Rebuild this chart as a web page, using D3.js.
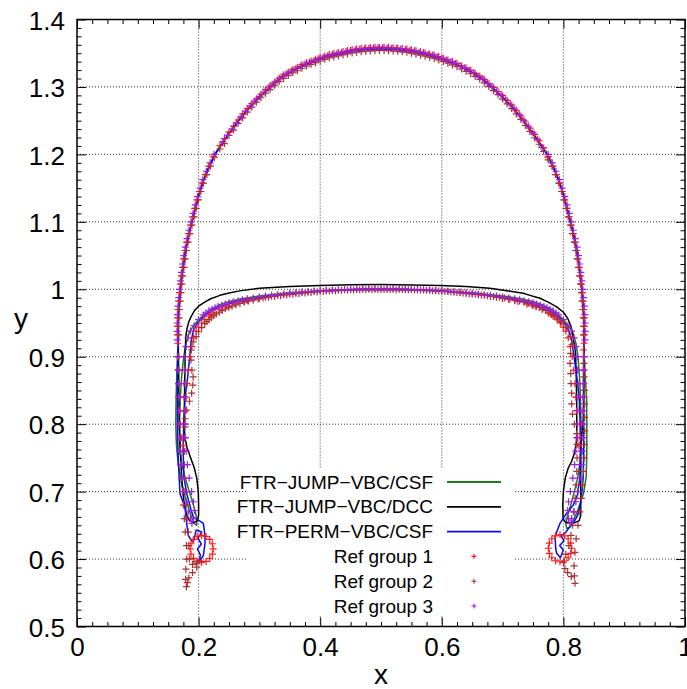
<!DOCTYPE html>
<html>
<head>
<meta charset="utf-8">
<script src="https://cdn.jsdelivr.net/npm/d3@7"></script>
<style>
  html, body { margin: 0; padding: 0; background: #fff; }
  svg { display: block; }
  text { font-family: "Liberation Sans", Arial, Helvetica, sans-serif; fill: #000; }
</style>
</head>
<body>
<svg id="chart" width="687" height="689"></svg>
<script>
// ---------------- data ----------------
const xTickValues = [0, 0.2, 0.4, 0.6, 0.8, 1];
const xTickLabels = ["0", "0.2", "0.4", "0.6", "0.8", "1"];
const yTickValues = [0.5, 0.6, 0.7, 0.8, 0.9, 1.0, 1.1, 1.2, 1.3, 1.4];
const yTickLabels = ["0.5", "0.6", "0.7", "0.8", "0.9", "1", "1.1", "1.2", "1.3", "1.4"];
const legendNames = ["FTR\u2212JUMP\u2212VBC/CSF", "FTR\u2212JUMP\u2212VBC/DCC", "FTR\u2212PERM\u2212VBC/CSF",
                     "Ref group 1", "Ref group 2", "Ref group 3"];

// FTR-JUMP-VBC/CSF (green line)
const jumpCsf = [
 [0.1665,0.92],[0.166,0.94],[0.1665,0.96],[0.168,0.98],[0.170,1.00],[0.1725,1.02],[0.1755,1.04],[0.179,1.06],[0.1835,1.08],[0.189,1.10],[0.1945,1.12],[0.2005,1.14],[0.2075,1.16],[0.2165,1.18],[0.227,1.20],[0.24,1.218],[0.255,1.237],[0.27,1.255],[0.285,1.271],[0.30,1.285],[0.318,1.30],[0.335,1.313],[0.355,1.324],[0.375,1.333],[0.395,1.340],[0.415,1.346],[0.435,1.350],[0.455,1.354],[0.475,1.356],[0.50,1.357],[0.525,1.356],[0.545,1.354],[0.565,1.350],[0.585,1.346],[0.605,1.340],[0.625,1.333],[0.645,1.324],[0.665,1.313],[0.682,1.30],[0.70,1.285],[0.715,1.271],[0.73,1.255],[0.745,1.237],[0.76,1.218],[0.7735,1.20],[0.784,1.18],[0.793,1.16],[0.80,1.14],[0.806,1.12],[0.8115,1.10],[0.817,1.08],[0.8215,1.06],[0.825,1.04],[0.828,1.02],[0.8305,1.00],[0.832,0.98],[0.8335,0.96],[0.834,0.94],[0.8335,0.92],
 [0.8345,0.90],[0.836,0.87],[0.8383,0.836],[0.8385,0.80],[0.8385,0.76],[0.8375,0.722],[0.833,0.697],[0.8218,0.668],[0.811,0.648],[0.806,0.645],
 [0.804,0.652],[0.807,0.665],[0.812,0.68],[0.818,0.70],[0.8235,0.72],[0.8275,0.745],[0.829,0.77],[0.829,0.80],[0.828,0.84],[0.8265,0.87],[0.824,0.90],[0.8205,0.92],
 [0.815,0.937],[0.807,0.947],[0.80,0.955],[0.79,0.963],[0.78,0.970],[0.765,0.977],[0.75,0.982],[0.73,0.986],[0.70,0.990],[0.65,0.995],[0.60,0.998],[0.55,0.9995],[0.50,1.000],[0.45,0.9995],[0.40,0.998],[0.35,0.995],[0.30,0.990],[0.27,0.986],[0.25,0.982],[0.235,0.977],[0.22,0.970],[0.21,0.963],[0.20,0.955],[0.193,0.947],[0.185,0.937],
 [0.1795,0.92],[0.1755,0.90],[0.172,0.87],[0.170,0.84],[0.1685,0.80],[0.169,0.77],[0.1715,0.745],[0.1765,0.725],[0.183,0.705],[0.189,0.688],[0.194,0.672],[0.197,0.66],[0.197,0.650],
 [0.1935,0.652],[0.1885,0.662],[0.183,0.677],[0.177,0.695],[0.1715,0.715],[0.1665,0.74],[0.1635,0.77],[0.1625,0.80],[0.163,0.84],[0.164,0.87],[0.165,0.90],[0.1665,0.92]
];

// FTR-JUMP-VBC/DCC (black line)
const jumpDcc = [
 [0.1665,0.92],[0.166,0.94],[0.1665,0.96],[0.168,0.98],[0.170,1.00],[0.1725,1.02],[0.1755,1.04],[0.179,1.06],[0.1835,1.08],[0.189,1.10],[0.1945,1.12],[0.2005,1.14],[0.2075,1.16],[0.2165,1.18],[0.227,1.20],[0.24,1.218],[0.255,1.237],[0.27,1.255],[0.285,1.271],[0.30,1.285],[0.318,1.30],[0.335,1.313],[0.355,1.324],[0.375,1.333],[0.395,1.340],[0.415,1.346],[0.435,1.350],[0.455,1.354],[0.475,1.356],[0.50,1.357],[0.525,1.356],[0.545,1.354],[0.565,1.350],[0.585,1.346],[0.605,1.340],[0.625,1.333],[0.645,1.324],[0.665,1.313],[0.682,1.30],[0.70,1.285],[0.715,1.271],[0.73,1.255],[0.745,1.237],[0.76,1.218],[0.7735,1.20],[0.784,1.18],[0.793,1.16],[0.80,1.14],[0.806,1.12],[0.8115,1.10],[0.817,1.08],[0.8215,1.06],[0.825,1.04],[0.828,1.02],[0.8305,1.00],[0.832,0.98],[0.8335,0.96],[0.834,0.94],[0.8335,0.92],
 [0.834,0.90],[0.834,0.87],[0.8338,0.84],[0.833,0.81],[0.831,0.79],[0.829,0.775],[0.8285,0.75],[0.8285,0.72],[0.8285,0.69],[0.8285,0.665],[0.826,0.657],[0.819,0.654],[0.81,0.653],[0.803,0.655],[0.7995,0.66],[0.799,0.68],[0.80,0.70],[0.803,0.72],[0.808,0.735],[0.8136,0.745],[0.818,0.757],[0.821,0.77],[0.822,0.79],[0.822,0.82],[0.8215,0.85],[0.821,0.88],[0.8195,0.91],[0.8174,0.92],[0.8155,0.932],[0.8125,0.945],[0.8075,0.956],[0.80,0.966],[0.789,0.974],[0.775,0.981],[0.7615,0.9867],[0.745,0.991],[0.734,0.994],[0.71,0.9975],[0.679,1.0015],[0.64,1.004],[0.597,1.0055],[0.55,1.0065],[0.50,1.007],[0.45,1.0068],[0.40,1.0055],[0.35,1.004],[0.30,1.0015],[0.27,0.998],[0.25,0.9945],[0.235,0.991],[0.22,0.986],[0.21,0.981],[0.20,0.975],[0.193,0.968],[0.188,0.960],[0.184,0.952],[0.181,0.942],[0.179,0.93],[0.178,0.91],[0.1775,0.88],[0.177,0.85],[0.1765,0.82],[0.176,0.80],[0.1775,0.78],[0.181,0.765],[0.187,0.75],[0.193,0.735],[0.197,0.72],[0.1995,0.70],[0.200,0.68],[0.200,0.665],[0.198,0.657],[0.192,0.654],[0.185,0.657],[0.180,0.667],[0.176,0.685],[0.173,0.71],[0.171,0.74],[0.1695,0.77],[0.168,0.81],[0.1675,0.85],[0.167,0.89],[0.1665,0.92]
];

// FTR-PERM-VBC/CSF (blue line)
const permCsf = [
 [0.1665,0.92],[0.166,0.94],[0.1665,0.96],[0.168,0.98],[0.170,1.00],[0.1725,1.02],[0.1755,1.04],[0.179,1.06],[0.1835,1.08],[0.189,1.10],[0.1945,1.12],[0.2005,1.14],[0.2075,1.16],[0.2165,1.18],[0.227,1.20],[0.24,1.218],[0.255,1.237],[0.27,1.255],[0.285,1.271],[0.30,1.285],[0.318,1.30],[0.335,1.313],[0.355,1.324],[0.375,1.333],[0.395,1.340],[0.415,1.346],[0.435,1.350],[0.455,1.354],[0.475,1.356],[0.50,1.357],[0.525,1.356],[0.545,1.354],[0.565,1.350],[0.585,1.346],[0.605,1.340],[0.625,1.333],[0.645,1.324],[0.665,1.313],[0.682,1.30],[0.70,1.285],[0.715,1.271],[0.73,1.255],[0.745,1.237],[0.76,1.218],[0.7735,1.20],[0.784,1.18],[0.793,1.16],[0.80,1.14],[0.806,1.12],[0.8115,1.10],[0.817,1.08],[0.8215,1.06],[0.825,1.04],[0.828,1.02],[0.8305,1.00],[0.832,0.98],[0.8335,0.96],[0.834,0.94],[0.8335,0.92],
 [0.833,0.88],[0.833,0.84],[0.8335,0.80],[0.8335,0.76],[0.8325,0.72],[0.829,0.685],[0.8235,0.665],[0.8163,0.653],[0.808,0.645],[0.8026,0.638],[0.7955,0.635],[0.801,0.627],[0.794,0.62],[0.7999,0.613],[0.795,0.602],[0.7889,0.6085],[0.7875,0.615],[0.7862,0.633],[0.7944,0.653],[0.8054,0.668],[0.8163,0.68],[0.823,0.695],[0.827,0.72],[0.828,0.76],[0.8275,0.80],[0.826,0.84],[0.822,0.87],[0.8175,0.90],[0.8135,0.925],
 [0.808,0.94],[0.801,0.951],[0.792,0.959],[0.782,0.966],[0.77,0.972],[0.755,0.977],[0.74,0.981],[0.72,0.985],[0.70,0.988],[0.65,0.9935],[0.60,0.997],[0.55,0.999],[0.50,0.9995],[0.45,0.999],[0.40,0.997],[0.35,0.9935],[0.30,0.988],[0.28,0.985],[0.26,0.981],[0.245,0.977],[0.23,0.972],[0.218,0.966],[0.208,0.959],[0.199,0.951],[0.192,0.94],
 [0.188,0.925],[0.1855,0.90],[0.182,0.87],[0.178,0.84],[0.1755,0.80],[0.1745,0.76],[0.176,0.72],[0.181,0.695],[0.187,0.675],[0.1913,0.662],[0.199,0.658],[0.2078,0.653],[0.2105,0.635],[0.2105,0.623],[0.2078,0.605],[0.2023,0.5986],[0.1996,0.594],[0.203,0.606],[0.198,0.615],[0.2045,0.622],[0.199,0.631],[0.205,0.64],[0.196,0.643],[0.1913,0.625],[0.1875,0.628],[0.1831,0.635],[0.1804,0.653],[0.1776,0.677],[0.1694,0.697],[0.1667,0.747],[0.1655,0.78],[0.165,0.82],[0.1652,0.86],[0.1658,0.90],[0.1665,0.92]
];

// Ref group 1 (red +)
const refGroup1 = [
 [0.1655,0.92],[0.1650,0.945],[0.1662,0.97],[0.1685,0.995],[0.1715,1.02],[0.1754,1.045],[0.1802,1.07],[0.1866,1.095],[0.1935,1.12],[0.2012,1.145],[0.2110,1.17],[0.2245,1.197],
 [0.235,1.213],[0.25,1.233],[0.265,1.251],[0.28,1.268],[0.295,1.282],[0.31,1.296],[0.325,1.307],[0.34,1.318],[0.355,1.326],[0.37,1.333],[0.385,1.3385],[0.40,1.3435],[0.415,1.348],[0.43,1.351],[0.445,1.354],[0.46,1.3565],[0.475,1.358],[0.49,1.359],[0.505,1.359],
 [0.52,1.358],[0.535,1.357],[0.55,1.355],[0.565,1.352],[0.58,1.349],[0.595,1.345],[0.61,1.340],[0.625,1.335],[0.64,1.328],[0.655,1.320],[0.67,1.311],[0.685,1.2995],[0.70,1.287],[0.715,1.273],[0.73,1.257],[0.745,1.239],[0.76,1.220],[0.775,1.197],
 [0.7885,1.17],[0.7983,1.145],[0.806,1.12],[0.8129,1.095],[0.8193,1.07],[0.8241,1.045],[0.828,1.02],[0.831,0.995],[0.8333,0.97],[0.8345,0.945],[0.834,0.92],
 [0.1652,0.9325],[0.1654,0.9575],[0.1672,0.9825],[0.1699,1.0075],[0.1734,1.0325],[0.1776,1.0575],[0.1832,1.0825],[0.1901,1.1075],[0.1972,1.1325],[0.2056,1.1575],[0.2168,1.1825],
 [0.2425,1.2233],[0.2575,1.242],[0.2725,1.2597],[0.2875,1.2753],[0.3025,1.2892],[0.3175,1.3016],[0.3325,1.3131],[0.3475,1.3219],[0.3625,1.3293],[0.3775,1.3359],[0.3925,1.3411],[0.4075,1.3457],[0.4225,1.3495],[0.4375,1.3525],[0.4525,1.3555],[0.4675,1.3573],[0.4825,1.3584],[0.4975,1.359],
 [0.5125,1.3587],[0.5275,1.3578],[0.5425,1.3563],[0.5575,1.3535],[0.5725,1.3505],[0.5875,1.3473],[0.6025,1.3427],[0.6175,1.3376],[0.6325,1.3316],[0.6475,1.3246],[0.6625,1.3164],[0.6775,1.3055],[0.6925,1.2935],[0.7075,1.280],[0.7225,1.265],[0.7375,1.248],[0.7525,1.2297],[0.7675,1.2096],
 [0.7827,1.1825],[0.7939,1.1575],[0.8023,1.1325],[0.8094,1.1075],[0.8163,1.0825],[0.8219,1.0575],[0.8261,1.0325],[0.8296,1.0075],[0.8323,0.9825],[0.8341,0.9575],[0.8343,0.9325],
 [0.8335,0.90],[0.833,0.88],[0.8325,0.86],[0.832,0.84],[0.831,0.82],[0.830,0.80],[0.828,0.78],[0.8255,0.768],[0.8235,0.78],[0.823,0.80],[0.8215,0.82],[0.8205,0.84],[0.819,0.86],[0.817,0.88],[0.8145,0.90],[0.8115,0.915],[0.808,0.928],[0.804,0.938],
 [0.80,0.944],[0.795,0.950],[0.79,0.955],[0.783,0.96],[0.775,0.965],[0.765,0.970],[0.755,0.974],[0.74,0.978],[0.725,0.982],[0.71,0.985],[0.69,0.988],[0.67,0.991],[0.65,0.993],[0.63,0.995],[0.61,0.997],[0.59,0.998],[0.57,0.999],[0.55,0.9995],[0.53,1.0],[0.51,1.0],[0.49,1.0],[0.47,1.0],[0.45,0.9995],[0.43,0.999],[0.41,0.998],[0.39,0.997],[0.37,0.995],[0.35,0.993],[0.33,0.991],[0.31,0.988],[0.29,0.985],[0.275,0.982],[0.26,0.978],[0.245,0.974],[0.235,0.970],[0.225,0.965],[0.217,0.96],[0.21,0.955],[0.205,0.950],[0.20,0.944],
 [0.22,0.9625],[0.25,0.9755],[0.28,0.983],[0.30,0.9865],[0.32,0.9895],[0.34,0.992],[0.36,0.994],[0.38,0.996],[0.40,0.9975],[0.42,0.9985],[0.44,0.9993],[0.46,0.9998],[0.48,1.0],[0.50,1.0],[0.52,1.0],[0.54,0.9998],[0.56,0.9993],[0.58,0.9985],[0.60,0.9975],[0.62,0.996],[0.64,0.994],[0.66,0.992],[0.68,0.9895],[0.70,0.9865],[0.72,0.983],[0.75,0.9755],[0.78,0.9625],
 [0.196,0.938],[0.192,0.928],[0.189,0.915],[0.186,0.90],[0.183,0.88],[0.181,0.86],[0.1795,0.84],[0.1785,0.82],[0.1775,0.80],[0.1765,0.78],[0.1745,0.768],[0.172,0.78],[0.170,0.80],[0.169,0.82],[0.168,0.84],[0.1675,0.86],[0.167,0.88],[0.166,0.90],
 [0.224,0.615],[0.2226,0.6227],[0.2184,0.6291],[0.2123,0.6335],[0.205,0.635],[0.1977,0.6335],[0.1916,0.6291],[0.1875,0.6227],[0.186,0.615],[0.1875,0.6074],[0.1916,0.6009],[0.1977,0.5965],[0.205,0.595],[0.2123,0.5965],[0.2184,0.6009],[0.2226,0.6074],
 [0.8134,0.616],[0.812,0.6237],[0.8078,0.6301],[0.8017,0.6345],[0.7944,0.636],[0.7871,0.6345],[0.781,0.6301],[0.7769,0.6237],[0.7754,0.616],[0.7769,0.6084],[0.781,0.6019],[0.7871,0.5975],[0.7944,0.596],[0.8017,0.5975],[0.8078,0.6019],[0.812,0.6084]
];

// Ref group 2 (brown +)
const refGroup2 = [
 [0.1677,0.9325],[0.1679,0.9575],[0.1697,0.9825],[0.1724,1.0075],[0.1759,1.0325],[0.1801,1.0575],[0.1857,1.0825],[0.1926,1.1075],[0.1997,1.1325],[0.2081,1.1575],[0.2193,1.1825],
 [0.2425,1.216],[0.2575,1.236],[0.2725,1.254],[0.2875,1.270],[0.3025,1.284],[0.3175,1.296],[0.3325,1.308],[0.3475,1.317],[0.3625,1.324],[0.3775,1.331],[0.3925,1.336],[0.4075,1.341],[0.4225,1.3445],[0.4375,1.3475],[0.4525,1.3505],[0.4675,1.3523],[0.4825,1.3534],[0.4975,1.354],
 [0.5125,1.3537],[0.5275,1.3528],[0.5425,1.3513],[0.5575,1.3485],[0.5725,1.3455],[0.5875,1.3423],[0.6025,1.3377],[0.6175,1.3326],[0.6325,1.3266],[0.6475,1.3196],[0.6625,1.3114],[0.6775,1.3005],[0.6925,1.2885],[0.7075,1.275],[0.7225,1.260],[0.7375,1.243],[0.7525,1.2247],[0.7675,1.2046],
 [0.7812,1.1825],[0.7924,1.1575],[0.8008,1.1325],[0.8079,1.1075],[0.8148,1.0825],[0.8204,1.0575],[0.8246,1.0325],[0.8281,1.0075],[0.8308,0.9825],[0.8326,0.9575],[0.8328,0.9325],
 [0.1675,0.945],[0.1687,0.97],[0.171,0.995],[0.174,1.02],[0.1779,1.045],[0.1827,1.07],[0.1891,1.095],[0.196,1.12],[0.2037,1.145],[0.2135,1.17],[0.2259,1.195],
 [0.235,1.208],[0.25,1.228],[0.265,1.246],[0.28,1.2627],[0.295,1.2773],[0.31,1.2907],[0.325,1.3024],[0.34,1.3127],[0.355,1.321],[0.37,1.3277],[0.385,1.3335],[0.40,1.3385],[0.415,1.343],[0.43,1.346],[0.445,1.349],[0.46,1.3515],[0.475,1.353],[0.49,1.3538],[0.505,1.354],
 [0.52,1.3533],[0.535,1.352],[0.55,1.350],[0.565,1.347],[0.58,1.344],[0.595,1.340],[0.61,1.3352],[0.625,1.330],[0.64,1.3232],[0.655,1.3155],[0.67,1.306],[0.685,1.2945],[0.70,1.282],[0.715,1.268],[0.73,1.252],[0.745,1.234],[0.76,1.215],[0.775,1.192],
 [0.7746,1.195],[0.787,1.17],[0.7968,1.145],[0.8045,1.12],[0.8114,1.095],[0.8178,1.07],[0.8226,1.045],[0.8265,1.02],[0.8295,0.995],[0.8318,0.97],[0.833,0.945],
 [0.833,0.91],[0.8335,0.89],[0.834,0.87],[0.8345,0.85],[0.835,0.83],[0.835,0.81],[0.835,0.79],[0.8345,0.77],[0.834,0.75],[0.833,0.73],[0.8315,0.71],[0.8295,0.69],[0.827,0.67],[0.824,0.65],[0.821,0.63],[0.819,0.61],[0.8175,0.59],[0.818,0.575],[0.819,0.564],[0.813,0.574],[0.807,0.58],[0.8025,0.586],[0.800,0.595],[0.804,0.607],[0.809,0.62],[0.8125,0.635],[0.815,0.65],[0.8175,0.67],[0.8195,0.69],[0.821,0.71],[0.822,0.73],[0.8225,0.75],[0.8225,0.77],[0.8218,0.786],[0.818,0.80],[0.815,0.815],[0.8136,0.83],[0.8136,0.846],[0.8125,0.86],[0.812,0.875],[0.8109,0.89],[0.812,0.905],[0.8145,0.918],[0.812,0.93],
 [0.805,0.943],[0.80,0.949],[0.793,0.955],[0.785,0.961],[0.776,0.966],[0.766,0.971],[0.755,0.975],[0.742,0.979],[0.728,0.9825],[0.712,0.9855],[0.695,0.988],[0.675,0.9905],[0.655,0.9925],[0.635,0.9945],[0.615,0.996],[0.595,0.9975],[0.575,0.9985],[0.555,0.999],[0.535,0.9995],[0.515,0.9995],[0.495,0.9995],[0.475,0.9995],[0.455,0.999],[0.435,0.9985],[0.415,0.9975],[0.395,0.996],[0.375,0.9945],[0.355,0.9925],[0.335,0.9905],[0.315,0.988],[0.298,0.9855],[0.282,0.9825],[0.268,0.979],[0.255,0.975],[0.244,0.971],[0.234,0.966],[0.225,0.961],[0.217,0.955],[0.21,0.949],[0.205,0.943],[0.20,0.937],[0.196,0.93],
 [0.2135,0.952],[0.221,0.958],[0.229,0.9635],[0.239,0.9685],[0.2495,0.973],[0.2615,0.977],[0.275,0.981],[0.29,0.984],[0.306,0.987],[0.325,0.9893],[0.345,0.9915],[0.365,0.9935],[0.385,0.9953],[0.405,0.9968],[0.425,0.998],[0.445,0.9988],[0.465,0.9993],[0.485,0.9995],[0.505,0.9995],[0.525,0.9993],[0.545,0.9992],[0.565,0.9988],[0.585,0.998],[0.605,0.9968],[0.625,0.9953],[0.645,0.9935],[0.665,0.9915],[0.685,0.9893],[0.7035,0.987],[0.72,0.984],[0.735,0.981],[0.7485,0.977],[0.7605,0.973],[0.771,0.9685],[0.7805,0.9635],[0.789,0.958],[0.7965,0.952],
 [0.191,0.922],[0.188,0.91],[0.1875,0.895],[0.189,0.88],[0.191,0.87],[0.1905,0.858],[0.1886,0.846],[0.185,0.834],[0.1804,0.821],[0.178,0.808],[0.1776,0.796],[0.177,0.78],[0.1765,0.76],[0.1765,0.74],[0.177,0.72],[0.178,0.70],[0.1795,0.68],[0.181,0.66],[0.183,0.64],[0.184,0.62],[0.185,0.60],[0.19,0.592],[0.196,0.594],[0.202,0.597],[0.197,0.588],[0.19,0.58],[0.184,0.572],[0.1815,0.565],[0.180,0.559],[0.1785,0.57],[0.179,0.585],[0.1805,0.60],[0.180,0.62],[0.178,0.64],[0.1765,0.66],[0.175,0.68],[0.1735,0.70],[0.172,0.72],[0.171,0.74],[0.170,0.76],[0.1695,0.78],[0.169,0.80],[0.1685,0.82],[0.168,0.84],[0.168,0.86],[0.1678,0.88],[0.1677,0.90]
];

// Ref group 3 (violet +)
const refGroup3 = [
 [0.1649,0.925],[0.1647,0.95],[0.1661,0.975],[0.1685,1.0],[0.1718,1.025],[0.1757,1.05],[0.1809,1.075],[0.1875,1.10],[0.1945,1.125],[0.2025,1.15],[0.2127,1.175],[0.2255,1.20],
 [0.24,1.219],[0.255,1.238],[0.27,1.256],[0.285,1.272],[0.30,1.286],[0.315,1.2985],[0.33,1.310],[0.345,1.3195],[0.36,1.327],[0.375,1.334],[0.39,1.339],[0.405,1.344],[0.42,1.348],[0.435,1.351],[0.45,1.354],[0.465,1.356],[0.48,1.357],[0.495,1.358],
 [0.51,1.3578],[0.525,1.3572],[0.54,1.3555],[0.555,1.3535],[0.57,1.351],[0.585,1.3475],[0.60,1.3425],[0.615,1.3375],[0.63,1.331],[0.645,1.3245],[0.66,1.315],[0.675,1.305],[0.69,1.293],[0.705,1.281],[0.72,1.267],[0.735,1.2505],[0.75,1.232],[0.765,1.210],
 [0.775,1.20],[0.7878,1.175],[0.798,1.15],[0.806,1.125],[0.813,1.10],[0.8196,1.075],[0.8248,1.05],[0.8287,1.025],[0.832,1.0],[0.8344,0.975],[0.8358,0.95],[0.8356,0.925],
 [0.1646,0.9375],[0.1651,0.9625],[0.1673,0.9875],[0.1701,1.0125],[0.1736,1.0375],[0.1781,1.0625],[0.1841,1.0875],[0.1909,1.1125],[0.1982,1.1375],[0.2069,1.1625],[0.2189,1.1875],
 [0.2475,1.2287],[0.2625,1.247],[0.2775,1.264],[0.2925,1.279],[0.3075,1.2925],[0.3225,1.3045],[0.3375,1.3154],[0.3525,1.3236],[0.3675,1.3306],[0.3825,1.3366],[0.3975,1.3417],[0.4125,1.3463],[0.4275,1.3495],[0.4425,1.3525],[0.4575,1.3553],[0.4725,1.3568],[0.4875,1.3577],[0.5025,1.358],
 [0.5175,1.3574],[0.5325,1.3563],[0.5475,1.3545],[0.5625,1.3515],[0.5775,1.3485],[0.5925,1.3447],[0.6075,1.3401],[0.6225,1.3349],[0.6375,1.3283],[0.6525,1.3209],[0.6675,1.3121],[0.6825,1.3006],[0.6975,1.2882],[0.7125,1.2743],[0.7275,1.2587],[0.7425,1.241],[0.7575,1.2223],
 [0.7816,1.1875],[0.7936,1.1625],[0.8023,1.1375],[0.8096,1.1125],[0.8164,1.0875],[0.8224,1.0625],[0.8269,1.0375],[0.8304,1.0125],[0.8332,0.9875],[0.8354,0.9625],[0.8359,0.9375],
 [0.8345,0.90],[0.834,0.88],[0.8335,0.86],[0.8332,0.84],[0.833,0.82],[0.8325,0.80],[0.832,0.78],[0.831,0.76],[0.8295,0.74],[0.827,0.72],[0.824,0.70],[0.8205,0.685],[0.817,0.67],[0.8135,0.66],[0.811,0.653],[0.8085,0.66],[0.807,0.672],[0.8085,0.685],[0.8115,0.70],[0.8155,0.72],[0.8185,0.74],[0.8205,0.76],[0.822,0.78],[0.823,0.80],[0.8235,0.82],[0.824,0.84],[0.824,0.86],[0.8235,0.88],[0.8225,0.90],[0.8205,0.915],[0.8175,0.928],[0.8135,0.938],
 [0.8075,0.946],[0.80,0.955],[0.792,0.962],[0.783,0.968],[0.773,0.9725],[0.762,0.9765],[0.75,0.98],[0.735,0.983],[0.72,0.986],[0.70,0.9885],[0.68,0.991],[0.66,0.993],[0.64,0.995],[0.62,0.9965],[0.60,0.998],[0.58,0.999],[0.56,0.9995],[0.54,1.0005],[0.52,1.001],[0.50,1.001],[0.48,1.001],[0.46,1.0005],[0.44,0.9995],[0.42,0.999],[0.40,0.998],[0.38,0.9965],[0.36,0.995],[0.34,0.993],[0.32,0.991],[0.30,0.9885],[0.28,0.986],[0.265,0.983],[0.25,0.98],[0.238,0.9765],[0.227,0.9725],[0.217,0.968],[0.208,0.962],[0.20,0.955],[0.1925,0.946],[0.1865,0.938],
 [0.212,0.965],[0.222,0.9705],[0.232,0.9745],[0.244,0.978],[0.257,0.9815],[0.272,0.9845],[0.29,0.987],[0.31,0.990],[0.33,0.992],[0.35,0.994],[0.37,0.996],[0.39,0.997],[0.41,0.9985],[0.43,0.9993],[0.45,1.0],[0.47,1.001],[0.49,1.001],[0.51,1.001],[0.53,1.001],[0.55,1.0],[0.57,0.9993],[0.59,0.9985],[0.61,0.997],[0.63,0.996],[0.65,0.994],[0.67,0.992],[0.69,0.990],[0.71,0.987],[0.728,0.9845],[0.743,0.9815],[0.756,0.978],[0.768,0.9745],[0.778,0.9705],[0.788,0.965],
 [0.1825,0.928],[0.1795,0.915],[0.1775,0.90],[0.1765,0.88],[0.176,0.86],[0.176,0.84],[0.1765,0.82],[0.177,0.80],[0.178,0.78],[0.1795,0.76],[0.1815,0.74],[0.1845,0.72],[0.1885,0.70],[0.1915,0.685],[0.193,0.672],[0.1915,0.66],[0.189,0.653],[0.1865,0.66],[0.183,0.67],[0.1795,0.685],[0.176,0.70],[0.173,0.72],[0.1705,0.74],[0.169,0.76],[0.168,0.78],[0.1675,0.80],[0.167,0.82],[0.167,0.84],[0.167,0.86],[0.1665,0.88],[0.166,0.90]
];

// ---------------- drawing ----------------
const svg = d3.select("#chart");
const W = 687, H = 689;
svg.append("rect").attr("width", W).attr("height", H).attr("fill", "#fff");

const x = d3.scaleLinear().domain([0, 1]).range([77, 685]);
const y = d3.scaleLinear().domain([0.5, 1.4]).range([626.5, 19.5]);

const FONT = '"Liberation Sans", Arial, Helvetica, sans-serif';

// grid
const grid = svg.append("g").attr("stroke", "#333").attr("stroke-width", 1).attr("stroke-dasharray", "1,2");
xTickValues.filter(v => v > 0 && v < 1).forEach(v => {
  grid.append("line").attr("x1", x(v)).attr("x2", x(v)).attr("y1", y(0.5)).attr("y2", y(1.4));
});
yTickValues.filter(v => v > 0.5 && v < 1.4).forEach(v => {
  grid.append("line").attr("x1", x(0)).attr("x2", x(1)).attr("y1", y(v)).attr("y2", y(v));
});

// legend background (opaque, hides grid)
svg.append("rect").attr("x", 247).attr("y", 468).attr("width", 266).attr("height", 148).attr("fill", "#fff");

// axes
function styleAxis(g, fontSize) {
  g.select(".domain").remove();
  g.selectAll(".tick line").attr("stroke", "#000").attr("stroke-width", 1);
  g.selectAll("text").attr("font-family", FONT).attr("font-size", fontSize).attr("fill", "#000");
}
const xMinor = d3.range(0, 1.0001, 0.025).filter(v => Math.abs(v / 0.2 - Math.round(v / 0.2)) > 1e-6);
const yMinor = d3.range(0.5, 1.40001, 0.0125).filter(v => Math.abs((v - 0.5) / 0.1 - Math.round((v - 0.5) / 0.1)) > 1e-6);

const gB = svg.append("g").attr("transform", `translate(0,${y(0.5)})`)
  .call(d3.axisBottom(x).tickValues(xTickValues).tickFormat((d, i) => xTickLabels[i]).tickSizeInner(-9).tickSizeOuter(0).tickPadding(11));
styleAxis(gB, 26);
const gBm = svg.append("g").attr("transform", `translate(0,${y(0.5)})`)
  .call(d3.axisBottom(x).tickValues(xMinor).tickFormat("").tickSizeInner(-4.5).tickSizeOuter(0));
styleAxis(gBm, 26);
const gT = svg.append("g").attr("transform", `translate(0,${y(1.4)})`)
  .call(d3.axisTop(x).tickValues(xTickValues).tickFormat("").tickSizeInner(-9).tickSizeOuter(0));
styleAxis(gT, 26);
const gTm = svg.append("g").attr("transform", `translate(0,${y(1.4)})`)
  .call(d3.axisTop(x).tickValues(xMinor).tickFormat("").tickSizeInner(-4.5).tickSizeOuter(0));
styleAxis(gTm, 26);
const gL = svg.append("g").attr("transform", `translate(${x(0)},0)`)
  .call(d3.axisLeft(y).tickValues(yTickValues).tickFormat((d, i) => yTickLabels[i]).tickSizeInner(-9).tickSizeOuter(0).tickPadding(12));
styleAxis(gL, 26);
gL.selectAll("text").attr("dy", "0.37em");
const gLm = svg.append("g").attr("transform", `translate(${x(0)},0)`)
  .call(d3.axisLeft(y).tickValues(yMinor).tickFormat("").tickSizeInner(-4.5).tickSizeOuter(0));
styleAxis(gLm, 26);
const gR = svg.append("g").attr("transform", `translate(${x(1)},0)`)
  .call(d3.axisRight(y).tickValues(yTickValues).tickFormat("").tickSizeInner(-9).tickSizeOuter(0));
styleAxis(gR, 26);
const gRm = svg.append("g").attr("transform", `translate(${x(1)},0)`)
  .call(d3.axisRight(y).tickValues(yMinor).tickFormat("").tickSizeInner(-4.5).tickSizeOuter(0));
styleAxis(gRm, 26);

// border
svg.append("rect").attr("x", x(0)).attr("y", y(1.4)).attr("width", x(1) - x(0)).attr("height", y(0.5) - y(1.4))
  .attr("fill", "none").attr("stroke", "#000").attr("stroke-width", 1.5);

// axis titles
svg.append("text").attr("x", 381).attr("y", 684).attr("text-anchor", "middle")
  .attr("font-family", FONT).attr("font-size", 28).text("x");
svg.append("text").attr("x", 21).attr("y", 328).attr("text-anchor", "middle")
  .attr("font-family", FONT).attr("font-size", 28).text("y");

// data
svg.append("clipPath").attr("id", "plotclip").append("rect")
  .attr("x", x(0)).attr("y", y(1.4)).attr("width", x(1) - x(0)).attr("height", y(0.5) - y(1.4));
const plot = svg.append("g").attr("clip-path", "url(#plotclip)");

const lineGen = d3.line().x(d => x(d[0])).y(d => y(d[1]));
const lineSeries = [
  { data: jumpCsf, color: "#1f7a1f" },
  { data: jumpDcc, color: "#000000" },
  { data: permCsf, color: "#0a0af0" }
];
lineSeries.forEach(s => {
  plot.append("path").attr("d", lineGen(s.data)).attr("fill", "none")
    .attr("stroke", s.color).attr("stroke-width", 1.5).attr("stroke-linejoin", "round");
});

const plusPath = "M-3.5,0H3.5M0,-3.5V3.5";
const pointSeries = [
  { data: refGroup1, color: "#ff1a1a" },
  { data: refGroup2, color: "#a83232" },
  { data: refGroup3, color: "#9b1fe0" }
];
pointSeries.forEach(s => {
  plot.append("g").selectAll("path").data(s.data).join("path")
    .attr("d", plusPath)
    .attr("transform", d => `translate(${x(d[0])},${y(d[1])})`)
    .attr("fill", "none").attr("stroke", s.color).attr("stroke-width", 1.2);
});

// legend
const legendColors = ["#1f7a1f", "#000000", "#0a0af0", "#ff1a1a", "#a83232", "#9b1fe0"];
const legend = svg.append("g");
legendNames.forEach((name, i) => {
  const cy = 482 + i * 24.8;
  legend.append("text").attr("x", 433).attr("y", cy).attr("dy", "0.35em")
    .attr("text-anchor", "end").attr("font-family", FONT).attr("font-size", 19).text(name);
  if (i < 3) {
    legend.append("line").attr("x1", 447).attr("x2", 501).attr("y1", cy).attr("y2", cy)
      .attr("stroke", legendColors[i]).attr("stroke-width", 1.8);
  } else {
    legend.append("path").attr("d", "M-2.5,0H2.5M0,-2.5V2.5")
      .attr("transform", `translate(474,${cy})`).attr("fill", "none")
      .attr("stroke", legendColors[i]).attr("stroke-width", 1.1);
  }
});
</script>
</body>
</html>
